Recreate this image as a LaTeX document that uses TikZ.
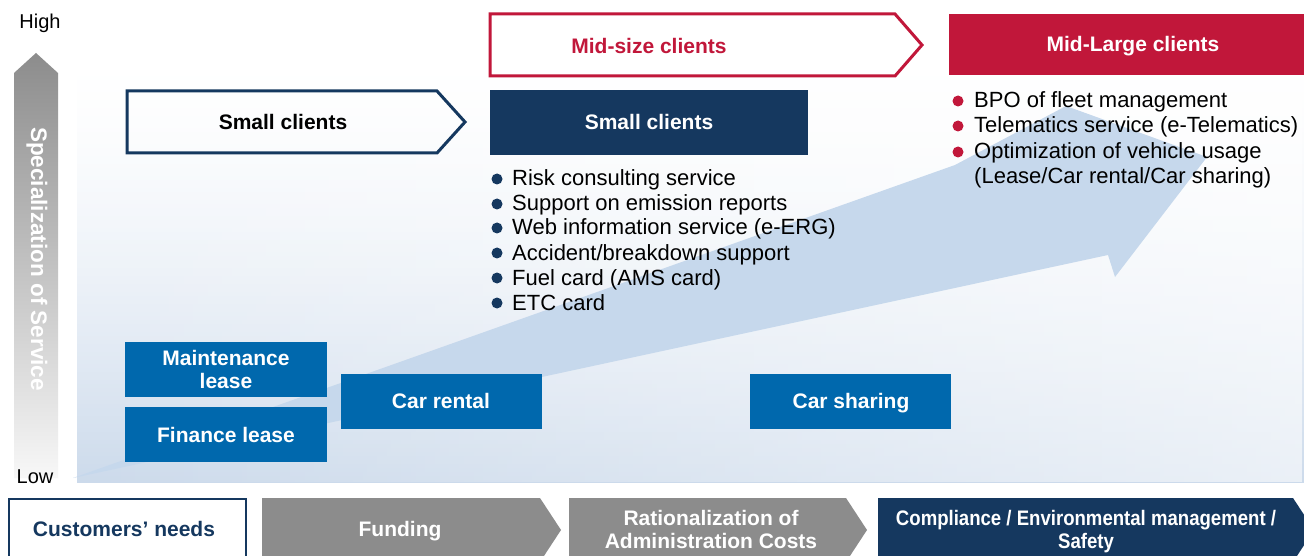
\documentclass[tikz,border=0pt]{standalone}
\usepackage{fontspec}
\setmainfont{Liberation Sans}
\usetikzlibrary{fadings}
\definecolor{navy}{HTML}{15385F}
\definecolor{crimson}{HTML}{C1173A}
\definecolor{boxblue}{HTML}{0068AD}
\definecolor{chevgray}{HTML}{8C8C8C}
\definecolor{arrowblue}{HTML}{C6D8EC}
\definecolor{bgblue}{HTML}{CCDAEB}
\tikzfading[name=fadetoright, left color=transparent!100, right color=transparent!0]
\begin{document}
\begin{tikzpicture}[x=1pt,y=-1pt,
  lbl/.style={font=\bfseries\fontsize{21}{23.5}\selectfont, align=center, text height=15pt, text depth=0pt, inner sep=0pt},
  body/.style={font=\fontsize{22}{25}\selectfont, anchor=base west, inner sep=0pt},
  axistxt/.style={font=\fontsize{20}{24}\selectfont, inner sep=0pt},
  navydot/.style={fill=navy},
  reddot/.style={fill=crimson}
]
\useasboundingbox (0,0) rectangle (1304,556);
\fill[white] (0,0) rectangle (1304,556);

% background panel (banded vertical gradient)
\begin{scope}
  \clip (77,0) rectangle (1304,482);
  \foreach \k in {0,...,120}{
    \pgfmathsetmacro\tt{max(0,(\k*4+2-60)/422)}
    \pgfmathsetmacro\pp{min(100,100*\tt*sqrt(\tt))}
    \fill[bgblue!\pp!white] (77,\k*4) rectangle (1304,\k*4+4.6);
  }
  \fill[white, path fading=fadetoright, fill opacity=0.6] (77,0) rectangle (1304,482);
\end{scope}

% big arrow
\fill[arrowblue] (73,478) -- (955,165) -- (1066,106) -- (1207,157) -- (1115,277) -- (1108,255) -- cycle;

% vertical axis arrow
\shade[top color=chevgray, middle color=chevgray!85!white, bottom color=white!94!gray]
  (14,478) -- (14,73) -- (36,53) -- (58,73) -- (58,478) -- cycle;
\node[font=\bfseries\fontsize{22.5}{24}\selectfont, text=white, rotate=-90, inner sep=0pt] (spec) at (37,259) {Specialization of Service};
\node[axistxt] (high) at (40,23) {High};
\node[axistxt] (low) at (35,477) {Low};

% outlined arrows
\draw[navy, line width=3pt, line join=miter] (127,91) -- (437,91) -- (465,122) -- (437,153) -- (127,153) -- cycle;
\node[lbl] (smallA) at (283,122) {Small clients};
\draw[crimson, line width=3pt, line join=miter] (490,14) -- (895,14) -- (922,45) -- (895,76) -- (490,76) -- cycle;
\node[lbl, text=crimson] (midsize) at (649,46) {Mid-size clients};

% filled headers
\fill[navy] (490,90) rectangle (808,155);
\node[lbl, text=white] (smallB) at (649,122) {Small clients};
\fill[crimson] (949,14) rectangle (1304,75);
\node[lbl, text=white] (midlarge) at (1133,44) {Mid-Large clients};

% navy bullets
\foreach \yy/\txt [count=\i] in {186/{Risk consulting service}, 211/{Support on emission reports}, 235/{Web information service (e-ERG)}, 260/{Accident/breakdown support}, 285/{Fuel card (AMS card)}, 310/{ETC card}}{
  \fill[navydot] (497,\yy-7) circle (5.5pt);
  \node[body] (nb\i) at (512,\yy) {\txt};
}
% red bullets
\foreach \yy/\txt [count=\i] in {108/{BPO of fleet management}, 133/{Telematics service (e-Telematics)}, 159/{Optimization of vehicle usage}}{
  \fill[reddot] (958,\yy-7) circle (5.5pt);
  \node[body] (rb\i) at (974,\yy) {\txt};
}
\node[body] (rb4) at (974,184) {(Lease/Car rental/Car sharing)};

% blue service boxes
\fill[boxblue] (125,342) rectangle (327,397);
\node[lbl, text=white] (maint) at (226,381) {Maintenance\\lease};
\fill[boxblue] (125,407) rectangle (327,462);
\node[lbl, text=white] (finance) at (226,435) {Finance lease};
\fill[boxblue] (341,374) rectangle (542,429);
\node[lbl, text=white] (carrental) at (441,401) {Car rental};
\fill[boxblue] (750,374) rectangle (951,429);
\node[lbl, text=white] (carsharing) at (851,401) {Car sharing};

% bottom row
\draw[navy, line width=2.5pt] (9,499) rectangle (246,570);
\node[lbl, text=navy] (needs) at (124,529) {Customers’ needs};
\fill[chevgray] (262,498) -- (540,498) -- (561,530) -- (540,562) -- (262,562) -- cycle;
\node[lbl, text=white] (funding) at (400,529) {Funding};
\fill[chevgray] (569,498) -- (846,498) -- (867,530) -- (846,562) -- (569,562) -- cycle;
\node[lbl, text=white] (ration) at (711,541) {Rationalization of\\Administration Costs};
\fill[navy] (878,498) -- (1293,498) -- (1314,530) -- (1293,562) -- (878,562) -- cycle;
\node[lbl, text=white, xscale=0.885] (compl) at (1086,541) {Compliance / Environmental management /\\Safety};
\end{tikzpicture}
\end{document}
